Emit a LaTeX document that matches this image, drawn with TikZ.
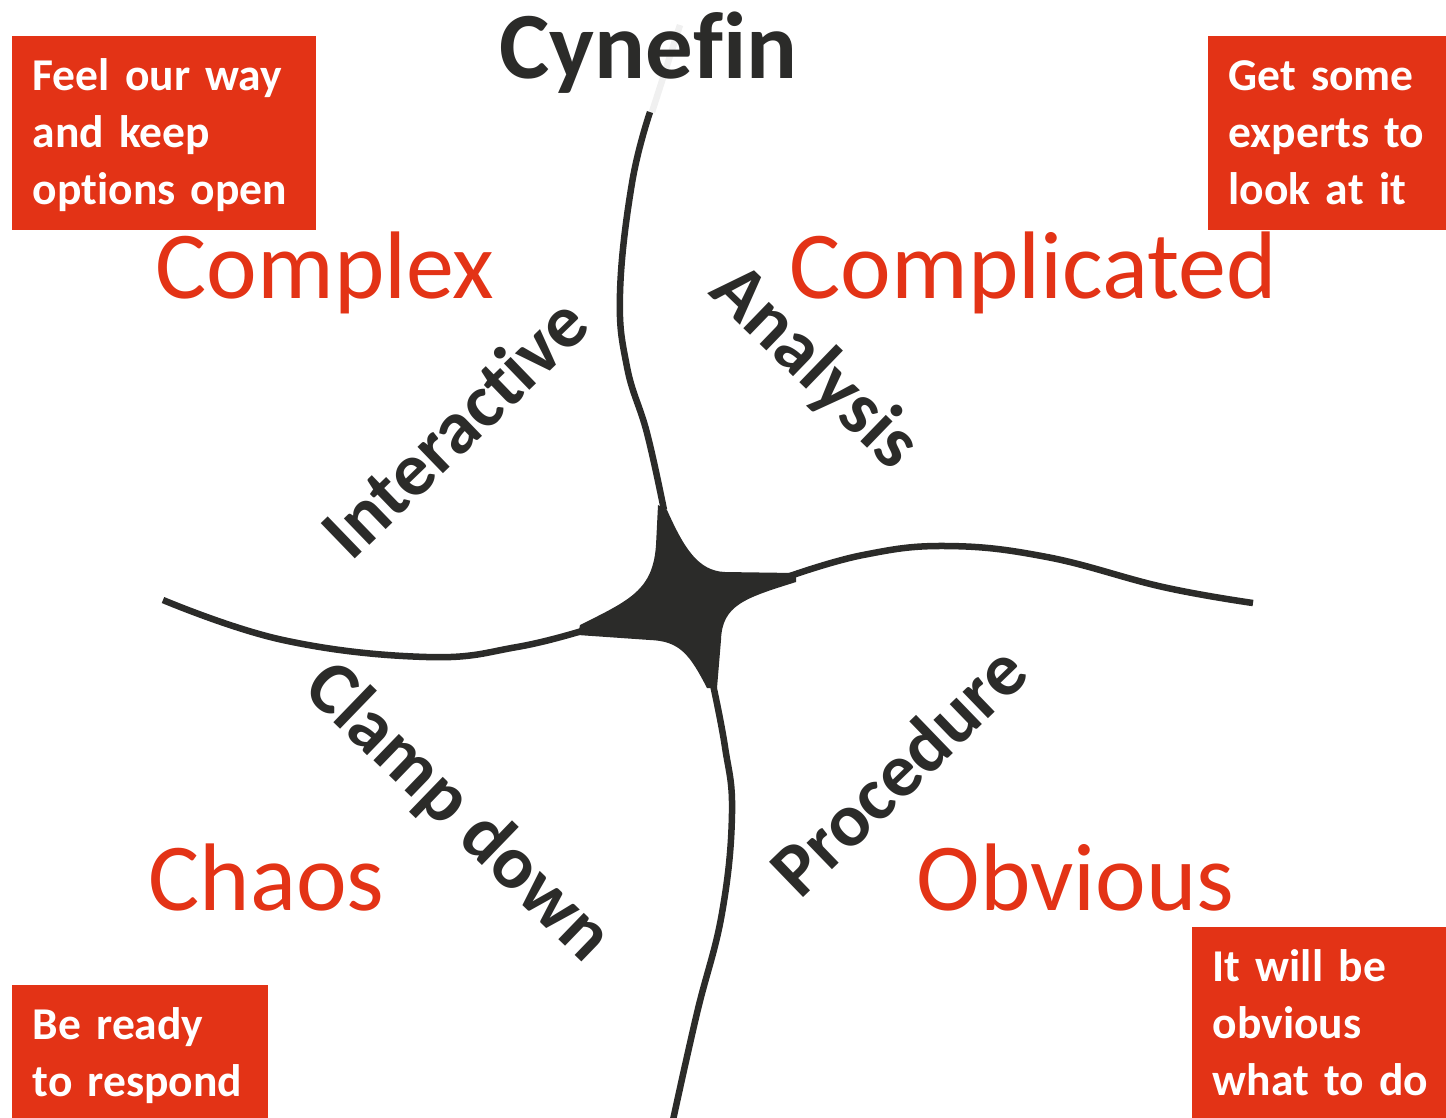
\documentclass[tikz,border=0pt]{standalone}
\usepackage{fontspec}
\setmainfont{Carlito}[Ligatures=NoCommon]
\hyphenpenalty=10000
\definecolor{cynred}{RGB}{227,51,22}
\definecolor{cynink}{RGB}{43,43,41}
\tikzset{
  rib/.style={cynink,line width=0.065cm},
  quadname/.style={cynred,font=\fontsize{27.3}{32}\selectfont,anchor=base west,inner sep=0pt},
  movelabel/.style={cynink,font=\fontsize{21.5}{26}\selectfont\bfseries,inner sep=0pt},
  advice/.style={fill=cynred,text=white,font=\fontsize{12.95}{16.2}\selectfont\bfseries,align=left,
    anchor=north west,inner xsep=0.21cm,inner ysep=0pt,text height=0.55cm,text depth=1.39cm}
}
\begin{document}
\begin{tikzpicture}[x=0.01cm,y=-0.01cm]
\useasboundingbox (0,0) rectangle (1446,1117);
%title
\draw[rib,black!6](652,112)--(680,25);
\node[cynink,font=\fontsize{27}{32}\selectfont\bfseries,anchor=base west,inner sep=0pt](title) at (499,78){Cynef\kern0pt in};
%lines
\draw[rib] plot[smooth,tension=0.7] coordinates {(650,112) (632,183) (620,293) (627,367) (647,433) (664,510)};
\draw[rib] plot[smooth,tension=0.7] coordinates {(712,680) (725,747) (732,813) (722,913) (697,1013) (673,1120)};
\draw[rib] plot[smooth,tension=0.7] coordinates {(163,600) (283,640) (427,657) (517,647) (585,630)};
\draw[rib] plot[smooth,tension=0.7] coordinates {(787,577) (863,555) (947,546) (1047,557) (1163,587) (1253,603)};
%centre
\fill[cynink](658,505)--(667,510) .. controls (684,548) and (698,571) .. (725,572)--(796,573)
  --(796,582) .. controls (745,598) and (722,605) .. (721,640)--(717,688)
  --(707,688) .. controls (690,655) and (680,641) .. (650,640)--(578,635)
  --(580,625) .. controls (630,600) and (653,590) .. (656,545)--cycle;
%quadrants
\foreach \nm/\x/\y/\txt in {complex/155/298/Complex,complicated/789/298/Complicated,chaos/148/910/Chaos,obvious/916/910/Obvious}
  \node[quadname](\nm) at (\x,\y){\txt};
%moves
\foreach \nm/\x/\y/\a/\txt in {interactive/454/427/44/Interactive,analysis/814/368/-44/Analysis,clampdown/457/813/-44/Clamp down,procedure/898/770/44/Procedure}
  \node[movelabel,rotate=\a](\nm) at (\x,\y){\txt};
%advice
\node[advice,minimum width=3.04cm,text width=2.62cm](complexhint) at (11,35){Feel~our~way\\and~keep\\options~open};
\node[advice,minimum width=2.39cm,text width=1.97cm](complicatedhint) at (1207,35){Get~some\\experts~to\\look~at~it};
\node[advice,minimum width=2.56cm,text width=2.14cm,text depth=0.82cm](chaoshint) at (11,984){Be~ready\\to~respond};
\node[advice,minimum width=2.55cm,text width=2.13cm](obvioushint) at (1191,926){It~will~be\\obvious\\what~to~do};
\end{tikzpicture}
\end{document}
